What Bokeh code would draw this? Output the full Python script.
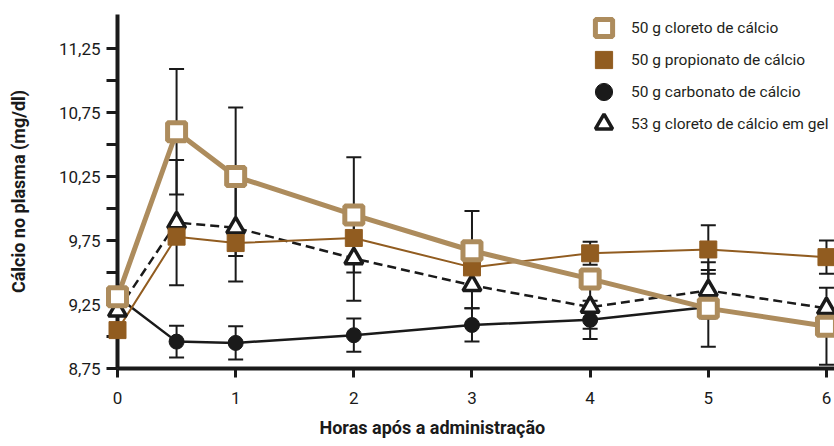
from bokeh.plotting import figure
from bokeh.models import (ColumnDataSource, Whisker, TeeHead, FixedTicker, CustomJSTickFormatter,
                          Legend, LegendItem, Range1d, Title)
from bokeh.embed import file_html
from bokeh.resources import INLINE

# ---- data ----
hours = [0, 0.5, 1, 2, 3, 4, 5, 6]
hours_carbonato = [0, 0.5, 1, 2, 3, 4, 5]

cloreto = [9.31, 10.60, 10.25, 9.95, 9.67, 9.45, 9.22, 9.08]
cloreto_err = [0, 0.49, 0.54, 0.45, 0.31, 0, 0.30, 0.30]
propionato = [9.05, 9.78, 9.73, 9.77, 9.54, 9.65, 9.68, 9.62]
propionato_err = [0, 0, 0.10, 0, 0, 0.09, 0.19, 0.13]
carbonato = [9.31, 8.96, 8.95, 9.01, 9.09, 9.13, 9.23]
carbonato_err = [0, 0.125, 0.13, 0.13, 0.13, 0.15, 0]
gel = [9.20, 9.89, 9.85, 9.61, 9.40, 9.23, 9.36, 9.22]
gel_err = [0, 0.49, 0.42, 0.33, 0.18, 0.17, 0.22, 0]

series_labels = ["50 g cloreto de cálcio", "50 g propionato de cálcio",
                 "50 g carbonato de cálcio", "53 g cloreto de cálcio em gel"]
x_title = "Horas após a administração"
x_ticks = [0, 1, 2, 3, 4, 5, 6]
y_ticks = [8.75, 9.25, 9.75, 10.25, 10.75, 11.25]
y_minor_ticks = [9.0, 9.5, 10.0, 10.5, 11.0]

TAN = "#AD8C5D"
BROWN = "#915C20"
INK = "#1a1a1a"
FONT = "Roboto"

p = figure(width=834, height=446, output_backend="svg", toolbar_location=None,
           x_range=Range1d(0, 6.068), y_range=Range1d(8.75, 11.516),
           min_border_left=117, min_border_right=0, min_border_top=14, min_border_bottom=78)
p.outline_line_color = None
p.grid.visible = False
p.background_fill_color = "white"

# axes
for ax in (p.xaxis[0], p.yaxis[0]):
    ax.axis_line_width = 4
    ax.axis_line_color = INK
    ax.major_tick_line_width = 3
    ax.major_tick_line_color = INK
    ax.major_tick_in = 0
    ax.major_label_text_font = FONT
    ax.major_label_text_font_size = "17px"
    ax.major_label_text_color = INK

p.xaxis.ticker = FixedTicker(ticks=x_ticks, minor_ticks=[])
p.xaxis.major_tick_out = 9
p.xaxis.major_label_standoff = 14
p.xaxis.minor_tick_line_color = None

p.yaxis.ticker = FixedTicker(ticks=y_ticks, minor_ticks=y_minor_ticks)
p.yaxis.formatter = CustomJSTickFormatter(code="return tick.toFixed(2).replace('.', ',')")
p.yaxis.major_tick_out = 11
p.yaxis.minor_tick_out = 11
p.yaxis.minor_tick_in = 0
p.yaxis.minor_tick_line_width = 3
p.yaxis.minor_tick_line_color = INK
p.yaxis.major_label_standoff = 6
p.yaxis.axis_label = "Cálcio no plasma (mg/dl)"
p.yaxis.axis_label_text_font = FONT
p.yaxis.axis_label_text_font_size = "18px"
p.yaxis.axis_label_text_font_style = "bold"
p.yaxis.axis_label_text_color = INK
p.yaxis.axis_label_standoff = 27

# x-axis title, offset to the left as in the original layout
p.add_layout(Title(text=x_title, align="left", offset=202, standoff=16,
                   text_font=FONT, text_font_size="18px", text_font_style="bold",
                   text_color=INK), "below")

# error bars
def add_err(xs, ys, errs):
    idx = [i for i, e in enumerate(errs) if e > 0]
    src = ColumnDataSource(dict(base=[xs[i] for i in idx],
                                upper=[ys[i] + errs[i] for i in idx],
                                lower=[ys[i] - errs[i] for i in idx]))
    w = Whisker(source=src, base="base", upper="upper", lower="lower",
                line_color=INK, line_width=2,
                upper_head=TeeHead(size=15, line_width=2, line_color=INK),
                lower_head=TeeHead(size=15, line_width=2, line_color=INK))
    p.add_layout(w)

add_err(hours_carbonato, carbonato, carbonato_err)
add_err(hours, gel, gel_err)
add_err(hours, propionato, propionato_err)
add_err(hours, cloreto, cloreto_err)

# lines
p.line(hours_carbonato, carbonato, line_color=INK, line_width=2.5)
p.line(hours, gel, line_color=INK, line_width=2.5, line_dash="9 5")
p.line(hours, propionato, line_color=BROWN, line_width=2)
p.line(hours, cloreto, line_color=TAN, line_width=5)

# markers
r_carb = p.scatter(hours_carbonato, carbonato, marker="circle", size=15,
                   fill_color=INK, line_color=INK, level="overlay")
r_gel = p.scatter(hours, gel, marker="triangle", size=18, line_width=3.5,
                  fill_color="white", line_color=INK, level="overlay")
r_prop = p.scatter(hours, propionato, marker="square", size=17,
                   fill_color=BROWN, line_color=BROWN, level="overlay")
r_cl = p.scatter(hours, cloreto, marker="square", size=18, line_width=5,
                 fill_color="white", line_color=TAN, level="overlay")

# legend: one single-item legend per row so the markers can be large
legend_rows = [(series_labels[0], r_cl, 319), (series_labels[1], r_prop, 287),
               (series_labels[2], r_carb, 255), (series_labels[3], r_gel, 223)]
for lab, rend, vy in legend_rows:
    lg = Legend(items=[LegendItem(label=lab, renderers=[rend])],
                location=(465, vy), glyph_width=43, glyph_height=43, spacing=0,
                label_standoff=6, padding=0, margin=0,
                border_line_color=None, background_fill_alpha=0,
                label_text_font=FONT, label_text_font_size="15.5px",
                label_text_color="#231f20")
    p.add_layout(lg)

open("out.html", "w").write(file_html(p, INLINE))
